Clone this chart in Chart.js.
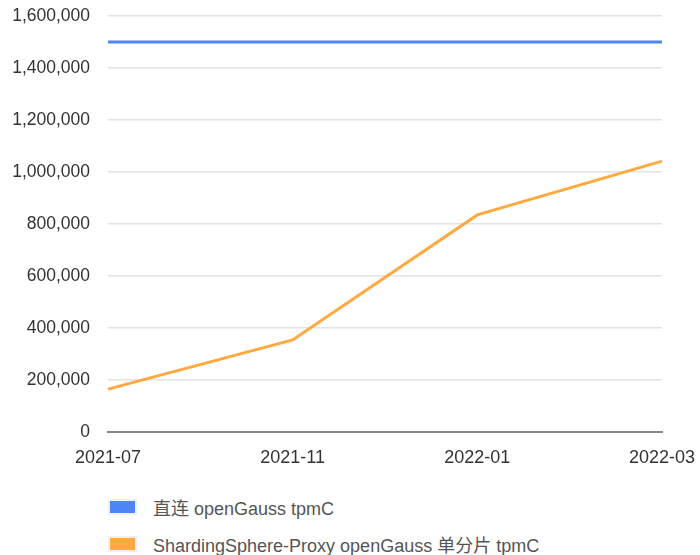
<!DOCTYPE html>
<html>
<head>
<meta charset="utf-8">
<script src="https://cdn.jsdelivr.net/npm/chart.js@4"></script>
<style>
  body { margin: 0; background: #fff; font-family: "Liberation Sans", "Noto Sans CJK SC", sans-serif; }
  #wrap { position: relative; width: 700px; height: 555px; }
  #box { position: absolute; left: 0; top: 0; width: 700px; height: 470px; }
  #legend { position: absolute; left: 108px; top: 497px; }
  .item { display: flex; align-items: center; height: 19px; margin-bottom: 18px; font-size: 18px; color: #555; }
  .swatch { width: 25px; height: 12px; border: 2px solid #eef0f4; margin-right: 16px; }
</style>
</head>
<body>
<div id="wrap">
  <div id="box"><canvas id="graphCanvas"></canvas></div>
  <div id="legend"></div>
</div>
<script>
const months = ['2021-07', '2021-11', '2022-01', '2022-03'];
const directTpmC = [1500000, 1500000, 1500000, 1500000];
const proxyTpmC = [165000, 354000, 835000, 1042000];
const seriesNames = ['直连 openGauss tpmC', 'ShardingSphere-Proxy openGauss 单分片 tpmC'];
const seriesColors = ['#4f86f7', '#ffa940'];

const fontFamily = '"Liberation Sans", "Noto Sans CJK SC", sans-serif';

let chart = new Chart(document.getElementById('graphCanvas'), {
    type: 'line',
    data: {
        labels: months,
        datasets: [
            { label: seriesNames[0], data: directTpmC, borderColor: seriesColors[0], backgroundColor: seriesColors[0] },
            { label: seriesNames[1], data: proxyTpmC, borderColor: seriesColors[1], backgroundColor: seriesColors[1] }
        ]
    },
    options: {
        responsive: true,
        maintainAspectRatio: false,
        animation: false,
        layout: { padding: { top: 16, right: 38, left: 0, bottom: 0 } },
        elements: {
            point: { radius: 0 },
            line: { borderWidth: 3, tension: 0 }
        },
        plugins: { legend: { display: false }, tooltip: { enabled: false } },
        scales: {
            x: {
                offset: false,
                grid: { display: false, drawTicks: false },
                border: { color: '#888', width: 2 },
                ticks: { color: '#333', font: { family: fontFamily, size: 18 }, padding: 15, maxRotation: 0, autoSkip: false },
                afterFit: s => {
                    s.height = 38;
                    s.paddingLeft = 0;
                    s.paddingRight = 0;
                }
            },
            y: {
                min: 0,
                max: 1600000,
                grid: { color: '#e3e3e3', lineWidth: 1.5, drawTicks: false },
                border: { display: false },
                ticks: {
                    stepSize: 200000,
                    color: '#333',
                    padding: 18,
                    font: { family: fontFamily, size: 17.5 },
                    callback: v => v.toLocaleString('en-US')
                },
                afterFit: s => {
                    s.width = 108;
                    s.paddingTop = 0;
                    s.paddingBottom = 0;
                }
            }
        }
    }
});

// legend list below the chart, one row per series
let legend = document.getElementById('legend');
chart.data.datasets.forEach(ds => {
    let row = document.createElement('div');
    row.className = 'item';
    let sw = document.createElement('span');
    sw.className = 'swatch';
    sw.style.background = ds.borderColor;
    let txt = document.createElement('span');
    txt.textContent = ds.label;
    row.appendChild(sw);
    row.appendChild(txt);
    legend.appendChild(row);
});
</script>
</body>
</html>
